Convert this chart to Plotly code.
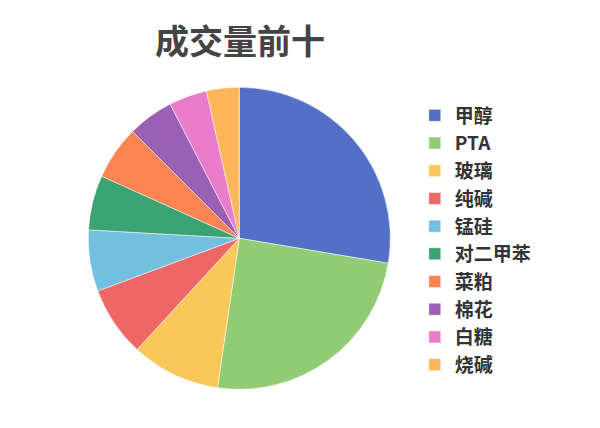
import plotly.graph_objects as go

# Top ten by trading volume
products = ['甲醇', 'PTA', '玻璃', '纯碱', '锰硅', '对二甲苯', '菜粕', '棉花', '白糖', '烧碱']
volumes = [2764, 2467, 953, 750, 656, 586, 575, 493, 407, 350]
colors = ['#5470c6', '#91cc75', '#fac858', '#ee6666', '#73c0de',
          '#3ba272', '#fc8452', '#9a60b4', '#ea7ccc', '#ffb55a']

fig = go.Figure()

fig.add_trace(go.Pie(
    labels=products,
    values=volumes,
    sort=False,
    direction='clockwise',
    rotation=0,
    textinfo='none',
    marker=dict(colors=colors, line=dict(color='white', width=0.5)),
    domain=dict(x=[0.1338, 0.6372], y=[0.1091, 0.8147]),
))

# page body adds an 8px margin, positions below account for it
fig.update_layout(
    width=600,
    height=428,
    margin=dict(l=0, r=0, t=0, b=0),
    paper_bgcolor='white',
    font=dict(family='Noto Sans CJK SC', color='#333333'),
    title=dict(
        text='<b>成交量前十</b>',
        x=0.3867, xanchor='center',
        y=0.9206, yanchor='middle',
        font=dict(size=34, color='#444444'),
    ),
    legend=dict(
        x=0.678, xanchor='left',
        y=0.458, yanchor='middle',
        font=dict(size=19, color='#333333', weight='bold'),
        itemclick=False,
    ),
)

fig.write_html("out.html")
